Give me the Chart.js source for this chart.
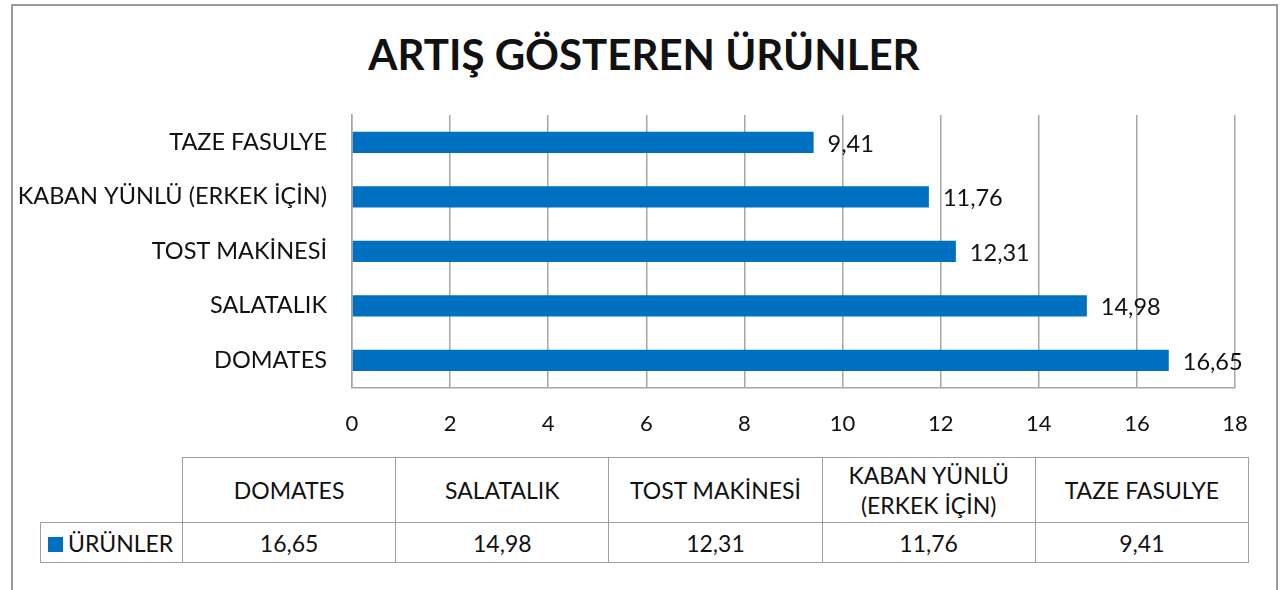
<!DOCTYPE html>
<html>
<head>
<meta charset="utf-8">
<script src="https://cdn.jsdelivr.net/npm/chart.js@4.4.1/dist/chart.umd.min.js"></script>
<style>
  html, body { margin: 0; padding: 0; background: #fff; overflow: hidden; }
  body { width: 1288px; height: 590px; position: relative; font-family: Lato, 'Open Sans', sans-serif; color: #111; }
  #frame { position: absolute; left: 11px; top: 4px; right: 10px; bottom: -20px; border: 2px solid #9a9a9a; z-index: 2; pointer-events: none; }
  #title { position: absolute; left: 11px; width: 1266px; top: 28px; text-align: center; font-weight: bold; font-size: 42px; line-height: 52px; }
  #chart-wrap { position: absolute; left: 0; top: 0; width: 1288px; height: 473px; }
  #data-table { position: absolute; left: 40px; top: 457px; width: 1209px; table-layout: fixed; border-collapse: collapse; font-size: 23px; background: #fff; }
  #data-table td { border: 1.5px solid #a0a0a0; text-align: center; padding: 0; line-height: 30px; }
  #data-table tr.head td { height: 64px; }
  #data-table tr.vals td { height: 39px; }
  #data-table td.blank { border-top: none; border-left: none; }
  #data-table td.legend { text-align: left; padding-left: 7px; white-space: nowrap; }
  .swatch { display: inline-block; width: 15px; height: 15px; background: #0070c0; margin-right: 5px; vertical-align: 0px; }
</style>
</head>
<body>
<div id="frame"></div>
<div id="title">ARTIŞ GÖSTEREN ÜRÜNLER</div>
<div id="chart-wrap"><canvas id="chart"></canvas></div>
<table id="data-table">
  <colgroup><col style="width:142px"><col><col><col><col><col></colgroup>
  <tr class="head" id="head-row"><td class="blank"></td></tr>
  <tr class="vals" id="val-row"><td class="legend"><span class="swatch"></span>ÜRÜNLER</td></tr>
</table>
<script>
const categories = ['DOMATES', 'SALATALIK', 'TOST MAKİNESİ', 'KABAN YÜNLÜ (ERKEK İÇİN)', 'TAZE FASULYE'];
const tableHeaders = ['DOMATES', 'SALATALIK', 'TOST MAKİNESİ', 'KABAN YÜNLÜ<br>(ERKEK İÇİN)', 'TAZE FASULYE'];
const values = [16.65, 14.98, 12.31, 11.76, 9.41];
const xTicks = [0, 2, 4, 6, 8, 10, 12, 14, 16, 18];

const barColor = '#0070c0';
const gridColor = '#a6a6a6';
const fontFamily = "Lato, 'Open Sans', sans-serif";

function formatComma(n) {
  return n.toFixed(2).replace('.', ',');
}

// table under the chart
const headRow = document.getElementById('head-row');
const valRow = document.getElementById('val-row');
tableHeaders.forEach((h, i) => {
  const th = document.createElement('td');
  th.innerHTML = h;
  headRow.appendChild(th);
  const td = document.createElement('td');
  td.textContent = formatComma(values[i]);
  valRow.appendChild(td);
});

const valueLabels = {
  id: 'valueLabels',
  afterDatasetsDraw(chart) {
    const ctx = chart.ctx;
    const meta = chart.getDatasetMeta(0);
    ctx.save();
    ctx.font = '23.5px ' + fontFamily;
    ctx.fillStyle = '#111';
    ctx.textBaseline = 'middle';
    ctx.textAlign = 'left';
    meta.data.forEach((bar, i) => {
      const v = chart.data.datasets[0].data[i];
      ctx.fillText(formatComma(v), bar.x + 14, bar.y + 2);
    });
    ctx.restore();
  },
};

new Chart(document.getElementById('chart'), {
  type: 'bar',
  data: {
    labels: categories.slice().reverse(),
    datasets: [
      {
        label: 'ÜRÜNLER',
        data: values.slice().reverse(),
        backgroundColor: barColor,
        barPercentage: 0.39,
        categoryPercentage: 1,
      },
    ],
  },
  options: {
    indexAxis: 'y',
    responsive: true,
    maintainAspectRatio: false,
    animation: false,
    layout: { padding: { left: 0, right: 53, top: 115, bottom: 13 } },
    plugins: {
      legend: { display: false },
      tooltip: { enabled: false },
      title: { display: false },
    },
    scales: {
      x: {
        min: 0,
        max: 18,
        afterBuildTicks(scale) {
          scale.ticks = xTicks.map((v) => ({ value: v }));
        },
        ticks: { color: '#111', font: { family: fontFamily, size: 22 }, padding: 23, maxRotation: 0 },
        grid: { color: gridColor, lineWidth: 1.5, drawTicks: false },
        border: { display: true, color: gridColor, width: 1.5 },
      },
      y: {
        afterFit(scale) {
          scale.width = 352;
        },
        ticks: { color: '#111', font: { family: fontFamily, size: 23.5 }, padding: 25 },
        grid: { display: false, drawTicks: false },
        border: { display: true, color: gridColor, width: 1.5 },
      },
    },
  },
  plugins: [valueLabels],
});
</script>
</body>
</html>
